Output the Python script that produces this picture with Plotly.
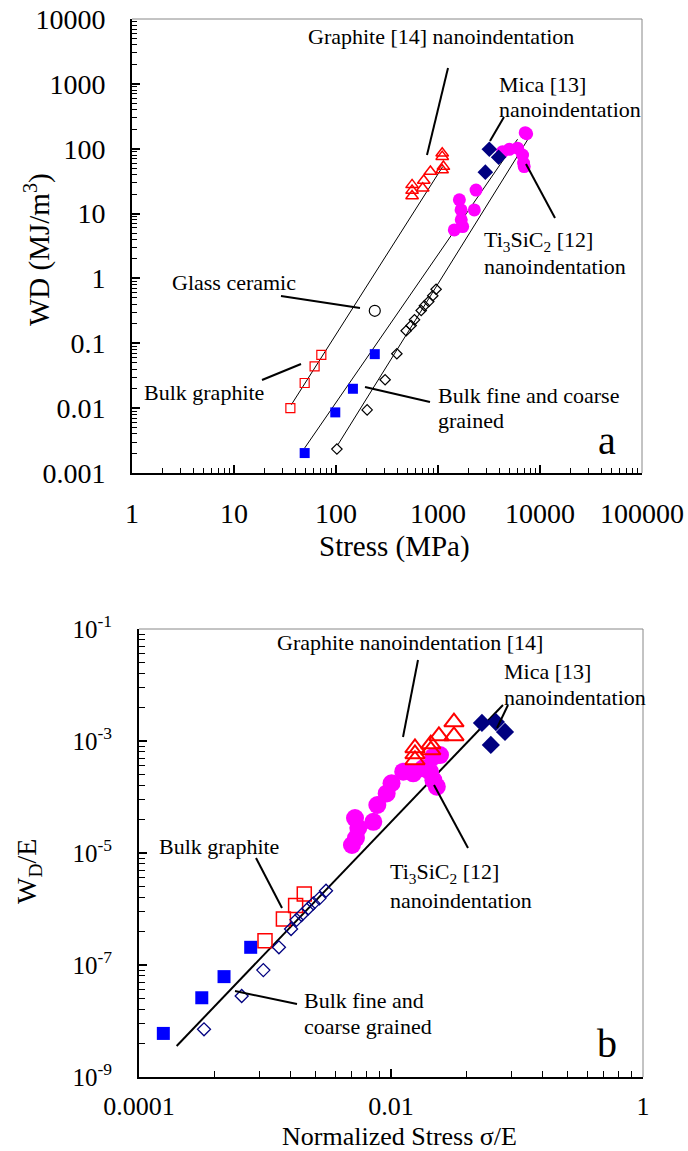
import plotly.graph_objects as go

W, H = 688, 1151
FONT = "'Liberation Serif', 'Times New Roman', 'DejaVu Serif', serif"

# ---------------- Panel a: Stress (MPa) vs WD (MJ/m^3) ----------------
a_bulk_graphite_x = [35.7, 49.3, 61.7, 71.8]
a_bulk_graphite_y = [0.010, 0.0244, 0.044, 0.0665]
a_bulk_filled_x = [49.3, 98.4, 146.5, 240]
a_bulk_filled_y = [0.00203, 0.0086, 0.0199, 0.068]
a_bulk_open_x = [102, 202, 303, 395, 487, 545, 588, 684, 736, 811, 888, 958]
a_bulk_open_y = [0.00234, 0.0094, 0.0274, 0.069, 0.156, 0.188, 0.23, 0.32, 0.38, 0.44, 0.54, 0.68]
a_glass_x = [240]
a_glass_y = [0.317]
a_graphite_nano_x = [557, 557, 557, 708, 725, 843, 1097, 1130, 1100, 1100]
a_graphite_nano_y = [18.7, 22.6, 27.7, 24.6, 32.3, 44.4, 47, 53, 75.5, 85]
a_mica_x = [3186, 3928, 2911]
a_mica_y = [98, 74, 43.5]
a_ti3sic2_x = [7163, 7400, 5000, 6026, 6745, 6900, 7000, 4300, 2360, 2270, 1620, 1683, 1690, 1445, 1745]
a_ti3sic2_y = [177, 170, 98, 102, 80, 60, 53, 90, 23, 11.4, 16.3, 11.4, 8.0, 5.6, 6.3]
a_fit_graphite_x = [36.5, 1112]
a_fit_graphite_y = [0.0113, 53]
a_fit_filled_x = [49.3, 6026]
a_fit_filled_y = [0.00243, 140]
a_fit_open_x = [104.4, 7550]
a_fit_open_y = [0.00273, 137]

a_xticks = [1, 10, 100, 1000, 10000, 100000]
a_xticktext = ["1", "10", "100", "1000", "10000", "100000"]
a_yticks = [0.001, 0.01, 0.1, 1, 10, 100, 1000, 10000]
a_yticktext = ["0.001", "0.01", "0.1", "1", "10", "100", "1000", "10000"]

# ---------------- Panel b: sigma/E vs WD/E ----------------
b_bulk_filled_x = [1.56e-4, 3.15e-4, 4.73e-4, 7.7e-4]
b_bulk_filled_y = [6.0e-9, 2.6e-8, 6.2e-8, 2.07e-7]
b_bulk_graphite_x = [1.0e-3, 1.40e-3, 1.75e-3, 2.05e-3]
b_bulk_graphite_y = [2.7e-7, 6.6e-7, 1.15e-6, 1.85e-6]
b_bulk_open_x = [3.28e-4, 6.53e-4, 9.7e-4, 1.29e-3, 1.61e-3, 1.78e-3, 1.95e-3, 2.21e-3, 2.42e-3, 2.7e-3, 3.05e-3]
b_bulk_open_y = [7.1e-9, 2.8e-8, 8.1e-8, 2.07e-7, 4.4e-7, 6.4e-7, 7.8e-7, 1.03e-6, 1.26e-6, 1.55e-6, 2.12e-6]
b_ti3sic2_x = [4.9e-3, 5.27e-3, 5.18e-3, 5.5e-3, 7.24e-3, 7.79e-3, 9.24e-3, 1.01e-2, 1.25e-2, 1.5e-2,
               1.8e-2, 2.17e-2, 2.45e-2, 2.17e-2, 2.31e-2, 2.04e-2]
b_ti3sic2_y = [1.39e-5, 1.85e-5, 4.2e-5, 2.8e-5, 3.6e-5, 7.2e-5, 1.16e-4, 1.76e-4, 2.83e-4, 2.65e-4,
               3.25e-4, 5.25e-4, 5.6e-4, 2.0e-4, 1.53e-4, 2.83e-4]
b_graphite_nano_x = [1.55e-2, 1.55e-2, 1.55e-2, 2.07e-2, 2.07e-2, 2.40e-2, 3.16e-2, 3.16e-2]
b_graphite_nano_y = [4.58e-4, 5.86e-4, 7.5e-4, 6.9e-4, 8.8e-4, 1.23e-3, 1.23e-3, 2.18e-3]
b_mica_x = [5.27e-2, 6.8e-2, 8.03e-2, 6.2e-2]
b_mica_y = [2.1e-3, 2.18e-3, 1.45e-3, 8.5e-4]
b_fit_x = [1.99e-4, 7.74e-2]
b_fit_y = [3.58e-9, 4.4e-3]

b_xticks = [1e-4, 1e-2, 1]
b_xticktext = ["0.0001", "0.01", "1"]
b_yticks = [1e-9, 1e-7, 1e-5, 1e-3, 1e-1]
b_yticktext = ["10<sup>-9</sup>", "10<sup>-7</sup>", "10<sup>-5</sup>", "10<sup>-3</sup>", "10<sup>-1</sup>"]

# ----------------------------------------------------------------------
def std_minor(lo_exp, hi_exp):
    return [k * 10 ** e for e in range(lo_exp, hi_exp) for k in range(2, 10)]

def sq_minor(majors):
    # minor ticks spaced as if each labelled interval were one decade
    return [m * k * k for m in majors[:-1] for k in range(2, 10)]

fig = go.Figure()

def add(x, y, symbol, size, color, fill=None, lw=1.2, xa="x", ya="y"):
    fig.add_trace(go.Scatter(
        x=x, y=y, mode="markers", xaxis=xa, yaxis=ya,
        marker=dict(symbol=symbol, size=size, color=fill if fill else color,
                    line=dict(color=color, width=lw))))

def fit(x, y, width, xa="x", ya="y"):
    fig.add_trace(go.Scatter(x=x, y=y, mode="lines", xaxis=xa, yaxis=ya,
                             line=dict(color="black", width=width)))

# panel a
fit(a_fit_graphite_x, a_fit_graphite_y, 1)
fit(a_fit_filled_x, a_fit_filled_y, 1)
fit(a_fit_open_x, a_fit_open_y, 1)
add(a_ti3sic2_x, a_ti3sic2_y, "circle", 13, "#FF00FF", "#FF00FF", 0)
add(a_mica_x, a_mica_y, "diamond", 12, "#000080", "#000080", 0)
add(a_graphite_nano_x, a_graphite_nano_y, "triangle-up-open", 11, "#FF0000", None, 1.5)
add(a_bulk_graphite_x, a_bulk_graphite_y, "square-open", 9, "#FF0000")
add(a_bulk_filled_x, a_bulk_filled_y, "square", 10, "#0000FF", "#0000FF", 0)
add(a_bulk_open_x, a_bulk_open_y, "diamond-open", 8, "black")
add(a_glass_x, a_glass_y, "circle-open", 11, "black")

# panel b
fit(b_fit_x, b_fit_y, 2, "x2", "y2")
add(b_ti3sic2_x, b_ti3sic2_y, "circle", 18, "#FF00FF", "#FF00FF", 0, "x2", "y2")
add(b_graphite_nano_x, b_graphite_nano_y, "triangle-up-open", 17, "#FF0000", None, 2, "x2", "y2")
add(b_mica_x, b_mica_y, "diamond", 14, "#000080", "#000080", 0, "x2", "y2")
add(b_bulk_filled_x, b_bulk_filled_y, "square", 13, "#0000FF", "#0000FF", 0, "x2", "y2")
add(b_bulk_graphite_x, b_bulk_graphite_y, "square-open", 14, "#FF0000", None, 1.5, "x2", "y2")
add(b_bulk_open_x, b_bulk_open_y, "diamond-open", 10, "#000080", None, 1.3, "x2", "y2")

def px(x):
    return x / W

def py(y):
    return 1 - y / H

axis_common = dict(type="log", showline=True, linecolor="black", linewidth=2,
                   ticks="inside", ticklen=8, tickwidth=1.5, tickcolor="black",
                   showgrid=False, zeroline=False, tickmode="array", automargin=False)

fig.update_layout(
    template="none",
    width=W, height=H, margin=dict(l=0, r=0, t=0, b=0, pad=0, autoexpand=False),
    paper_bgcolor="white", plot_bgcolor="white", showlegend=False,
    font=dict(family=FONT, color="black"),
    xaxis=dict(axis_common, domain=[px(132), px(642)], anchor="y", range=[0, 5],
               tickvals=a_xticks, ticktext=a_xticktext,
               tickfont=dict(size=28, family=FONT), ticklabelstandoff=14,
               minor=dict(tickmode="array", tickvals=std_minor(0, 5), ticks="inside",
                          ticklen=5, tickwidth=1.2, tickcolor="black", showgrid=False)),
    yaxis=dict(axis_common, domain=[py(473), py(19)], anchor="x", range=[-3, 4],
               tickvals=a_yticks, ticktext=a_yticktext,
               tickfont=dict(size=28, family=FONT), ticklabelstandoff=19,
               minor=dict(tickmode="array", tickvals=std_minor(-3, 4), ticks="inside",
                          ticklen=5, tickwidth=1.2, tickcolor="black", showgrid=False)),
    xaxis2=dict(axis_common, domain=[px(139), px(643)], anchor="y2", range=[-4, 0],
                tickvals=b_xticks, ticktext=b_xticktext,
                tickfont=dict(size=26, family=FONT), ticklabelstandoff=5,
                minor=dict(tickmode="array", tickvals=sq_minor(b_xticks), ticks="inside",
                           ticklen=6, tickwidth=1.2, tickcolor="black", showgrid=False)),
    yaxis2=dict(axis_common, domain=[py(1077), py(629)], anchor="x2", range=[-9, -1],
                tickvals=b_yticks, ticktext=b_yticktext,
                tickfont=dict(size=25, family=FONT), ticklabelstandoff=20,
                minor=dict(tickmode="array", tickvals=sq_minor(b_yticks), ticks="inside",
                           ticklen=6, tickwidth=1.2, tickcolor="black", showgrid=False)),
)

# grey top/right frame
shapes = []
for xr, yr in (("x domain", "y domain"), ("x2 domain", "y2 domain")):
    shapes.append(dict(type="line", xref=xr, yref=yr, x0=0, x1=1, y0=1, y1=1,
                       line=dict(color="#888888", width=1)))
    shapes.append(dict(type="line", xref=xr, yref=yr, x0=1, x1=1, y0=0, y1=1,
                       line=dict(color="#888888", width=1)))

# leader lines (pixel positions of the callouts)
leaders = [
    ((448, 68), (427, 155)), ((504, 117), (490, 141)), ((526, 164), (555, 218)),
    ((281, 296), (360, 308)), ((262, 380), (301, 364)), ((365, 387), (430, 402)),
    ((418, 660), (403, 737)), ((508, 705), (497, 728)), ((434, 785), (468, 848)),
    ((256, 858), (282, 908)), ((235, 991), (297, 1004)),
]
for (x0, y0), (x1, y1) in leaders:
    shapes.append(dict(type="line", xref="paper", yref="paper",
                       x0=px(x0), y0=py(y0), x1=px(x1), y1=py(y1),
                       line=dict(color="black", width=2)))
fig.update_layout(shapes=shapes)

labels = [
    ("Graphite [14] nanoindentation", 306, 37, 22),
    ("Mica [13]", 497, 84, 22), ("nanoindentation", 497, 109, 22),
    ("Ti<sub>3</sub>SiC<sub>2</sub> [12]", 482, 241, 22), ("nanoindentation", 482, 266, 22),
    ("Glass ceramic", 170, 282, 22),
    ("Bulk graphite", 142, 392, 22),
    ("Bulk fine and coarse", 436, 396, 22), ("grained", 436, 421, 22),
    ("Graphite nanoindentation [14]", 275, 642, 22),
    ("Mica [13]", 502, 671, 22), ("nanoindentation", 502, 697, 22),
    ("Ti<sub>3</sub>SiC<sub>2</sub> [12]", 388, 873, 22), ("nanoindentation", 388, 900, 22),
    ("Bulk graphite", 157, 846, 22),
    ("Bulk fine and", 302, 1000, 22), ("coarse grained", 302, 1026, 22),
]
ann = []
for t, x, y, s in labels:
    ann.append(dict(text=t, x=px(x), y=py(y), xref="paper", yref="paper", showarrow=False,
                    xanchor="left", yanchor="middle", font=dict(size=s, family=FONT, color="black")))
centered = [
    ("a", 607, 440, 40, 0), ("b", 607, 1043, 40, 0),
    ("Stress (MPa)", 394, 546, 29, 0),
    ("WD (MJ/m<sup>3</sup>)", 37, 250, 29, -90),
    ("Normalized Stress σ/E", 399, 1136, 26, 0),
    ("W<sub>D</sub>/E", 28, 872, 28, -90),
]
for t, x, y, s, ang in centered:
    ann.append(dict(text=t, x=px(x), y=py(y), xref="paper", yref="paper", showarrow=False,
                    xanchor="center", yanchor="middle", textangle=ang,
                    font=dict(size=s, family=FONT, color="black")))
fig.update_layout(annotations=ann)

fig.write_html("out.html")
